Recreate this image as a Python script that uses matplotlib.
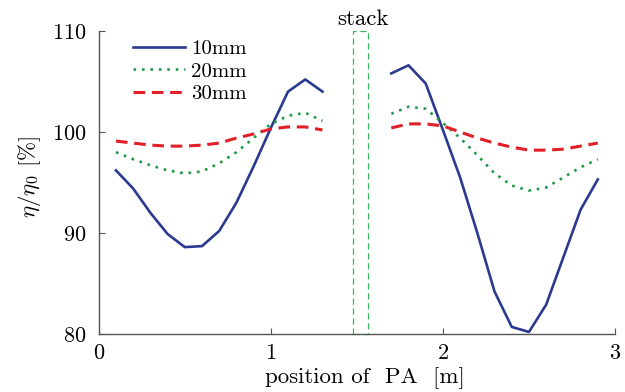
import matplotlib
matplotlib.use("Agg")
import matplotlib.pyplot as plt
from matplotlib.patches import Rectangle

plt.rcParams['font.family'] = 'cmr10'
plt.rcParams['mathtext.fontset'] = 'cm'
plt.rcParams['axes.formatter.use_mathtext'] = True

# measurement positions along PA (m), left and right of the stack
x_left = [0.1, 0.2, 0.3, 0.4, 0.5, 0.6, 0.7, 0.8, 0.9, 1.0, 1.1, 1.2, 1.3]
x_right = [1.7, 1.8, 1.9, 2.0, 2.1, 2.2, 2.3, 2.4, 2.5, 2.6, 2.7, 2.8, 2.9]

eta_10_left = [96.2, 94.4, 92.0, 89.9, 88.6, 88.7, 90.2, 93.0, 96.6, 100.4, 104.0, 105.2, 104.0]
eta_10_right = [105.8, 106.6, 104.8, 100.2, 95.5, 90.0, 84.2, 80.7, 80.2, 82.9, 87.6, 92.3, 95.3]
eta_20_left = [98.0, 97.3, 96.7, 96.2, 95.9, 96.1, 96.9, 98.0, 99.4, 100.8, 101.6, 101.9, 101.1]
eta_20_right = [101.8, 102.5, 102.3, 100.9, 99.4, 97.7, 95.9, 94.7, 94.2, 94.5, 95.5, 96.5, 97.3]
eta_30_left = [99.1, 98.9, 98.7, 98.6, 98.6, 98.7, 98.9, 99.4, 99.8, 100.3, 100.5, 100.5, 100.2]
eta_30_right = [100.4, 100.8, 100.8, 100.6, 100.0, 99.4, 98.9, 98.5, 98.2, 98.2, 98.3, 98.6, 98.9]

stack_x = (1.48, 1.565)

fig = plt.figure(figsize=(6.25, 3.92), dpi=100)
ax = fig.add_axes([0.158, 0.148, 0.826, 0.773])

blue = '#2b3a8f'
green = '#1f9a4a'
red = '#e01f26'

ax.plot(x_left, eta_10_left, color=blue, lw=1.9, label='10mm')
ax.plot(x_right, eta_10_right, color=blue, lw=1.9)
ax.plot(x_left, eta_20_left, color=green, lw=1.9, ls=(0, (1, 2.2)), label='20mm')
ax.plot(x_right, eta_20_right, color=green, lw=1.9, ls=(0, (1, 2.2)))
ax.plot(x_left, eta_30_left, color=red, lw=2.2, ls=(0, (3.8, 2.2)), label='30mm')
ax.plot(x_right, eta_30_right, color=red, lw=2.2, ls=(0, (3.8, 2.2)))

ax.add_patch(Rectangle((stack_x[0], 80), stack_x[1] - stack_x[0], 30, fill=False,
                       ec='#3cb45a', lw=0.9, ls=(0, (5, 3)), clip_on=False))
ax.text(1.535, 110.2, 'stack', ha='center', va='bottom', fontsize=16.5)

ax.set_xlim(0, 3)
ax.set_ylim(80, 110)
ax.set_xticks([0, 1, 2, 3])
ax.set_yticks([80, 90, 100, 110])
ax.tick_params(direction='in', labelsize=16, length=4, color='#555555')
ax.tick_params(axis='y', pad=9)
ax.tick_params(axis='x', pad=7)
for s in ['top', 'right']:
    ax.spines[s].set_visible(False)
for s in ['left', 'bottom']:
    ax.spines[s].set_color('#555555')
    ax.spines[s].set_linewidth(1.0)

ax.set_xlabel('position of  PA  [m]', fontsize=16.5, labelpad=3)
ax.xaxis.label.set_x(0.515)
ax.set_ylabel(r'$\eta/\eta_0$ [%]', fontsize=16.5, labelpad=6)
ax.yaxis.label.set_y(0.52)

ax.legend(loc='upper left', frameon=False, fontsize=15, handlelength=2.5,
          handletextpad=0.3, labelspacing=0.2, borderaxespad=0.0,
          bbox_to_anchor=(0.05, 1.0))

fig.savefig('out.png', dpi=100)
